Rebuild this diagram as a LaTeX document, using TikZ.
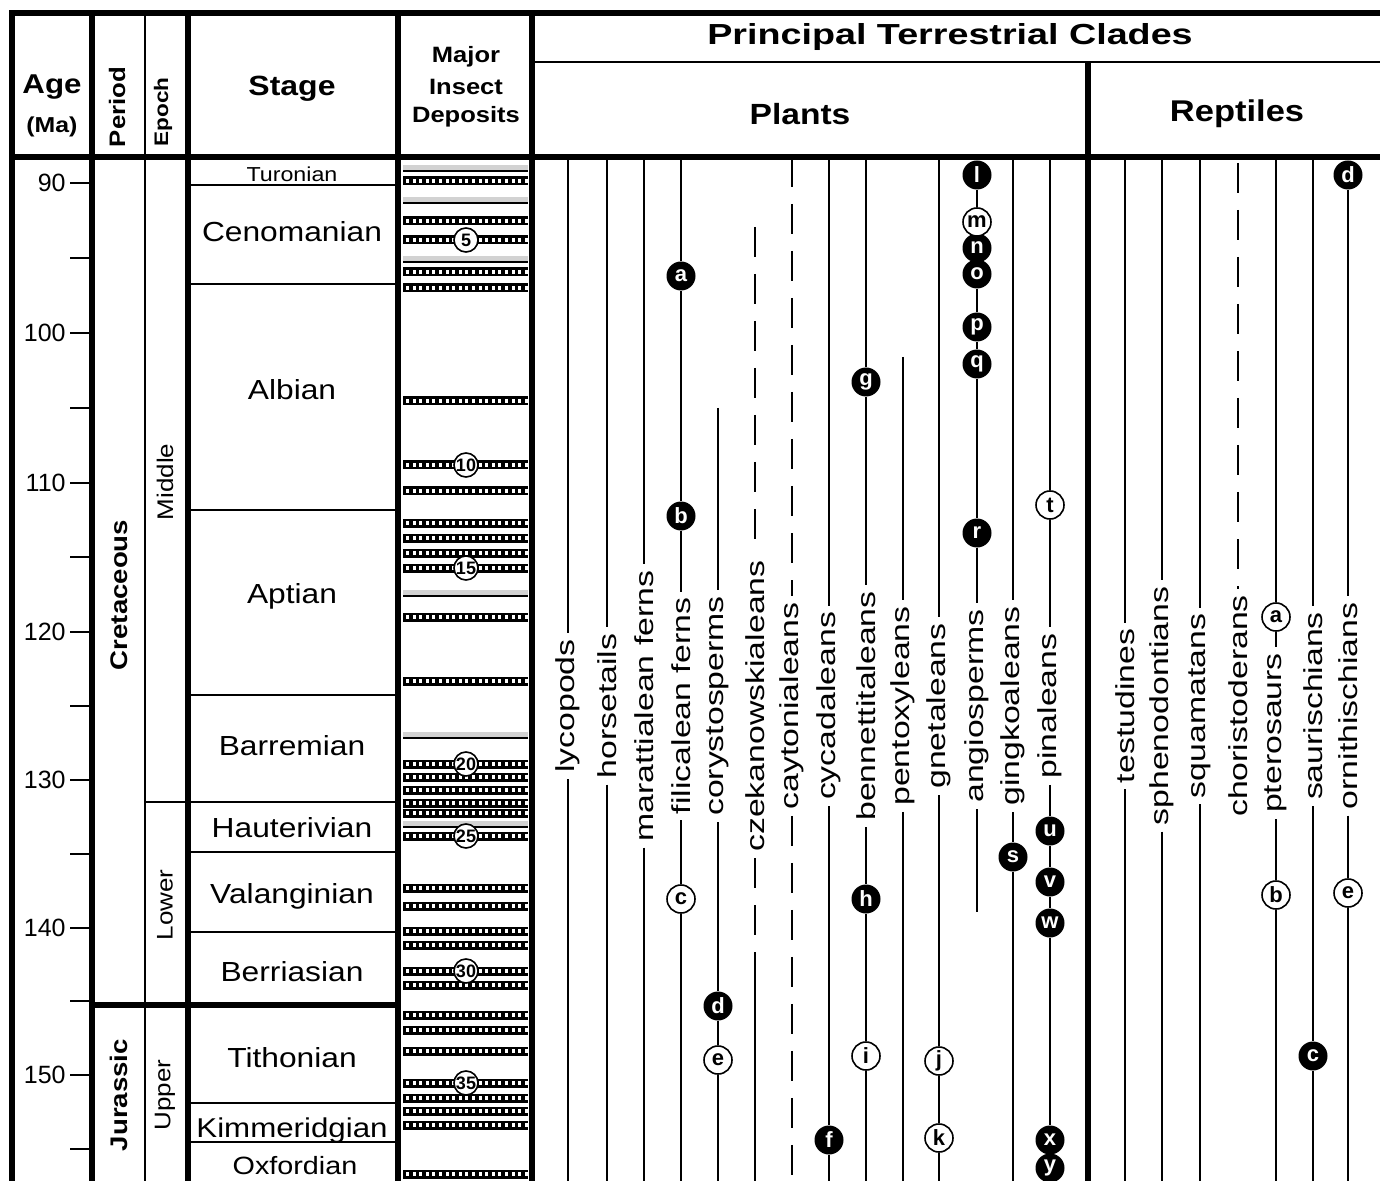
\documentclass[tikz,border=0pt]{standalone}
\usepackage{fontspec}
\setmainfont{Liberation Sans}
\usepackage{graphicx}
\usetikzlibrary{backgrounds}
\newcommand{\wtxt}[1]{\scalebox{1.3}[1]{#1}}
\newcommand{\stxt}[1]{\scalebox{1.15}[1]{#1}}
\newcommand{\fsz}[1]{\fontsize{#1}{#1}\selectfont}
\tikzset{
  heavy/.style={line width=2.6pt},
  mid/.style={line width=1.4pt},
  agetick/.style={line width=1.2pt},
  clade/.style={line width=1pt},
  cdash/.style={clade, dash pattern=on 15pt off 8.5pt},
  hd/.style={font=\bfseries\fsz{#1}, inner sep=0pt},
  tx/.style={font=\fsz{#1}, inner sep=0pt},
  lab/.style={rotate=90, font=\fsz{13}, inner sep=3pt},
  blk/.style={circle, fill=black, text=white, font=\bfseries\fsz{11}, minimum size=14.5pt, inner sep=0pt},
  wht/.style={circle, draw, line width=0.8pt, fill=white, font=\bfseries\fsz{11}, minimum size=14pt, inner sep=0pt},
  num/.style={circle, draw, line width=0.8pt, fill=white, font=\bfseries\fsz{9}, minimum size=12pt, inner sep=0pt},
}
\begin{document}
\begin{tikzpicture}[x=0.5pt, y=-0.5pt]
\useasboundingbox (0,0) rectangle (1380,1181);

% table
\draw[heavy] (12,1181) -- (12,13) -- (1380,13);
\draw[heavy] (12,157) -- (1380,157);
\draw[heavy] (92,13) -- (92,1181);
\draw[mid] (145,13) -- (145,1181);
\draw[heavy] (188,13) -- (188,1181);
\draw[heavy] (398,13) -- (398,1181);
\draw[heavy] (532,13) -- (532,1181);
\draw[mid] (532,62) -- (1380,62);
\draw[heavy] (1088,62) -- (1088,1181);
\draw[heavy] (92,1005) -- (398,1005);
\draw[mid] (145,802) -- (398,802);
\draw[line width=1pt] (188,185) -- (398,185);
\foreach \y in {284,510,695,852,932,1103,1142} \draw[mid] (188,\y) -- (398,\y);

% age scale
\foreach \y in {258,408,557,706,854,1001,1149} \draw[agetick] (70,\y) -- (92,\y);
\foreach \a/\y in {90/183,100/333,110/483,120/632,130/780,140/928,150/1075}{
  \draw[agetick] (70,\y) -- (92,\y);
  \node[tx=12.5, anchor=east] (age\a) at (66,\y) {\a};
}

% headers
\node[hd=13.6] (agehd) at (52,87) {\stxt{Age}};
\node[hd=10.8] (mahd) at (52,127) {\stxt{(Ma)}};
\node[hd=11.2, rotate=90] (perhd) at (117,107) {\stxt{Period}};
\node[hd=9.8, rotate=90] (epohd) at (163,112) {\stxt{Epoch}};
\node[hd=13.9] (stghd) at (292,89) {\stxt{Stage}};
\node[hd=11.1] (mj) at (466,57) {\stxt{Major}};
\node[hd=11.1] (ins) at (466,87) {\stxt{Insect}};
\node[hd=11.1] (dps) at (466,117) {\stxt{Deposits}};
\node[hd=14.5] (clhd) at (950,37) {\scalebox{1.3}[1]{Principal Terrestrial Clades}};
\node[hd=14.6] (plhd) at (800,114) {\stxt{Plants}};
\node[hd=15] (rphd) at (1237,114) {\stxt{Reptiles}};

% periods, epochs, stages
\node[hd=12, rotate=90] (cret) at (119,595) {\stxt{Cretaceous}};
\node[hd=12, rotate=90] (jur) at (119,1095) {\stxt{Jurassic}};
\node[tx=11.3, rotate=90] (midd) at (165,482) {\stxt{Middle}};
\node[tx=11.3, rotate=90] (lowr) at (165,905) {\stxt{Lower}};
\node[tx=11.3, rotate=90] (uppr) at (165,1095) {\stxt{Upper}};
\node[tx=10.1] (tur) at (292,174) {\stxt{Turonian}};
\node[tx=13.8] (cen) at (292,232) {\stxt{Cenomanian}};
\node[tx=13.8] (alb) at (292,390) {\stxt{Albian}};
\node[tx=13.8] (apt) at (292,596) {\stxt{Aptian}};
\node[tx=13.8] (bar) at (292,746) {\stxt{Barremian}};
\node[tx=13.8] (hau) at (292,828) {\stxt{Hauterivian}};
\node[tx=13.8] (val) at (292,896) {\stxt{Valanginian}};
\node[tx=13.8] (ber) at (292,972) {\stxt{Berriasian}};
\node[tx=13.8] (tit) at (292,1058) {\stxt{Tithonian}};
\node[tx=13.6] (kim) at (292,1130) {\stxt{Kimmeridgian}};
\node[tx=12.5] (oxf) at (295,1166) {\stxt{Oxfordian}};

% insect deposits
\foreach \y in {168,200,259,593,735,824}{
  \fill[gray!35] (403,\y-3) rectangle (528,\y+3);
  \draw[line width=0.6pt] (403,\y+3) -- (528,\y+3);
}
\foreach \y in {181,221,240,272,288,401,465,491,523,538,553,568,617,681,764,777,790,803,813,836,888,906,931,945,971,985,1015,1030,1051,1083,1098,1111,1125,1174}{
  \fill (403,\y-4.5) rectangle (528,\y+4.5);
  \foreach \i in {0,...,18} \fill[white] ({406+\i*6.6},\y-1.8) rectangle ++(3,3.6);
}
\foreach \k/\y in {5/240,10/465,15/568,20/764,25/836,30/971,35/1083}
  \node[num] (dep\k) at (466,\y) {\k};

% clades
\foreach \x/\n/\l in {568/lyc/lycopods,607/hor/horsetails,644/mar/marattialean ferns,681/fil/filicalean ferns,718/cor/corystosperms,755/cze/czekanowskialeans,792/cay/caytonialeans,829/cyc/cycadaleans,866/ben/bennettitaleans,903/pen/pentoxyleans,939/gne/gnetaleans,977/ang/angiosperms,1013/gin/gingkoaleans,1050/pin/pinaleans,1125/tes/testudines,1162/sph/sphenodontians,1200/squ/squamatans,1238/cho/choristoderans,1313/sau/saurischians,1348/orn/ornithischians}{
  \node[lab] (\n) at (\x,706) {\wtxt{\l}};
  \coordinate (\n-t) at (\x,157);
  \coordinate (\n-b) at (\x,1181);
}
\node[lab] (pte) at (1276,733) {\wtxt{pterosaurs}};
\coordinate (pte-t) at (1276,157);
\coordinate (pte-b) at (1276,1181);
\coordinate (cor-t) at (718,408);
\coordinate (cze-t) at (755,227);
\coordinate (cze-m) at (755,973);
\coordinate (pen-t) at (903,357);
\coordinate (ang-b) at (977,912);
\coordinate (cho-t) at (1238,163);

\node[blk] (pl-a) at (681,276) {a};
\node[blk] (pl-b) at (681,516) {b};
\node[wht] (pl-c) at (681,899) {c};
\node[blk] (pl-d) at (718,1006) {d};
\node[wht] (pl-e) at (718,1060) {e};
\node[blk] (pl-f) at (829,1140) {f};
\node[blk] (pl-g) at (866,382) {g};
\node[blk] (pl-h) at (866,899) {h};
\node[wht] (pl-i) at (866,1056) {i};
\node[wht] (pl-j) at (939,1061) {j};
\node[wht] (pl-k) at (939,1138) {k};
\node[blk] (pl-l) at (977,175) {l};
\node[blk] (pl-o) at (977,274) {o};
\node[blk] (pl-n) at (977,248) {n};
\node[wht] (pl-m) at (977,222) {m};
\node[blk] (pl-p) at (977,327) {p};
\node[blk] (pl-q) at (977,364) {q};
\node[blk] (pl-r) at (977,533) {r};
\node[blk] (pl-s) at (1013,857) {s};
\node[wht] (pl-t) at (1050,505) {t};
\node[blk] (pl-u) at (1050,831) {u};
\node[blk] (pl-v) at (1050,882) {v};
\node[blk] (pl-w) at (1050,923) {w};
\node[blk] (pl-x) at (1050,1140) {x};
\node[blk] (pl-y) at (1050,1168) {y};
\node[blk] (re-d) at (1348,175) {d};
\node[wht] (re-a) at (1276,617) {a};
\node[wht] (re-b) at (1276,895) {b};
\node[blk] (re-c) at (1313,1056) {c};
\node[wht] (re-e) at (1348,893) {e};

\begin{scope}[on background layer]
\foreach \n in {lyc,hor,mar,tes,sph,squ} \draw[clade] (\n-t) -- (\n) -- (\n-b);
\draw[clade] (fil-t) -- (pl-a) -- (pl-b) -- (fil) -- (pl-c) -- (fil-b);
\draw[clade] (cor-t) -- (cor) -- (pl-d) -- (pl-e) -- (cor-b);
\draw[cdash] (cze-t) -- (cze) -- (cze-m);
\draw[clade] (cze-m) -- (cze-b);
\draw[cdash] (cay-t) -- (cay) -- (cay-b);
\draw[clade] (cyc-t) -- (cyc) -- (pl-f) -- (cyc-b);
\draw[clade] (ben-t) -- (pl-g) -- (ben) -- (pl-h) -- (pl-i) -- (ben-b);
\draw[clade] (pen-t) -- (pen) -- (pen-b);
\draw[clade] (gne-t) -- (gne) -- (pl-j) -- (pl-k) -- (gne-b);
\draw[clade] (pl-l) -- (pl-m) -- (pl-n) -- (pl-o) -- (pl-p) -- (pl-q) -- (pl-r) -- (ang) -- (ang-b);
\draw[clade] (gin-t) -- (gin) -- (pl-s) -- (gin-b);
\draw[clade] (pin-t) -- (pl-t) -- (pin) -- (pl-u) -- (pl-v) -- (pl-w) -- (pl-x) -- (pl-y);
\draw[cdash] (cho-t) -- (cho);
\draw[clade] (pte-t) -- (re-a) -- (pte) -- (re-b) -- (pte-b);
\draw[clade] (sau-t) -- (sau) -- (re-c) -- (sau-b);
\draw[clade] (re-d) -- (orn) -- (re-e) -- (orn-b);
\end{scope}
\end{tikzpicture}
\end{document}
